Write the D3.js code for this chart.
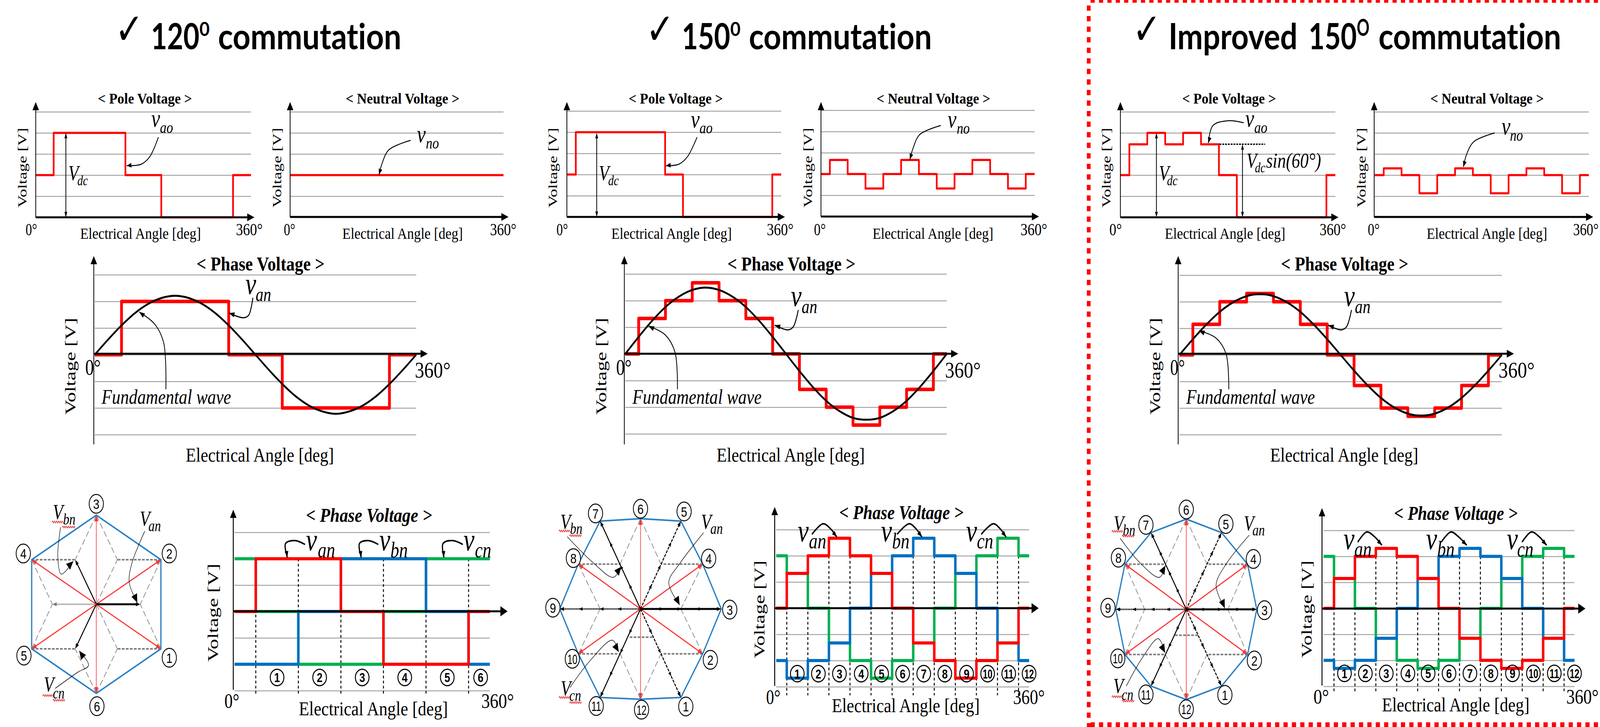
<!DOCTYPE html>
<html>
<head>
<meta charset="utf-8">
<script src="https://cdn.jsdelivr.net/npm/d3@7"></script>
<style>
  html, body { margin: 0; background: #fff; }
  svg { display: block; width: 100vw; height: 100vh; }
  text { font-variant-ligatures: none; }
</style>
</head>
<body>
<svg id="chart" viewBox="0 0 5151 1860" preserveAspectRatio="none"></svg>
<script>
// ---- data ----
const angles6 = [0, 30, 150, 210, 330, 360];
const angles12 = [0, 15, 45, 75, 105, 135, 165, 195, 225, 255, 285, 315, 345, 360];
const anglesBus = [0, 30, 90, 150, 210, 270, 330, 360];
const anglesFund = [0, 15, 30, 45, 60, 75, 90, 105, 120, 135, 150, 165, 180, 195, 210, 225, 240, 255, 270, 285, 300, 315, 330, 345, 360];

const pole120 = [0, 1, 0, -1, 0, 0];
const poleImp = [0, 0.73, 1, 0.73, 1, 0.73, 0, -1, -1, -1, -1, -1, 0, 0];
const polePlain12 = [0, 1, 1, 1, 1, 1, 0, -1, -1, -1, -1, -1, 0, 0];
const neutral120 = [0, 0, 0, 0, 0, 0];
const neutral150 = [0, 0.33, 0, -0.34, 0, 0.33, 0, -0.34, 0, 0.33, 0, -0.34, 0, 0];
const neutralImp = [0, 0.16, 0, -0.43, 0, 0.16, 0, -0.43, 0, 0.16, 0, -0.43, 0, 0];

const phase120 = [0, 2, 0, -2, 0, 0];
const phase150 = [0, 1.33, 2, 2.67, 2, 1.33, 0, -1.33, -2, -2.67, -2, -1.33, 0, 0];
const phaseImp = [0, 1.15, 2, 2.31, 2, 1.15, 0, -1.15, -2, -2.31, -2, -1.15, 0, 0];

const fund120 = [0, 0.57, 1.1, 1.56, 1.91, 2.13, 2.21, 2.13, 1.91, 1.56, 1.1, 0.57, 0, -0.57, -1.1, -1.56, -1.91, -2.13, -2.22, -2.13, -1.91, -1.56, -1.1, -0.57, 0];
const fund150 = [0, 0.64, 1.24, 1.76, 2.15, 2.4, 2.49, 2.4, 2.15, 1.76, 1.24, 0.64, 0, -0.64, -1.24, -1.76, -2.15, -2.4, -2.47, -2.4, -2.15, -1.76, -1.24, -0.64, 0];
const fundImp = [0, 0.59, 1.14, 1.62, 1.98, 2.21, 2.29, 2.21, 1.98, 1.62, 1.14, 0.59, 0, -0.59, -1.14, -1.62, -1.98, -2.21, -2.29, -2.21, -1.98, -1.62, -1.14, -0.59, 0];

const bus120a = [0, 2, 2, 0, -2, -2, 0, 0];
const bus120b = [-2, -2, 0, 2, 2, 0, -2, -2];
const bus120c = [2, 0, -2, -2, 0, 2, 2, 2];
const bus150a = [0, 1.33, 2, 2.67, 2, 1.33, 0, -1.33, -2, -2.67, -2, -1.33, 0, 0];
const bus150b = [-2, -2.67, -2, -1.33, 0, 1.33, 2, 2.67, 2, 1.33, 0, -1.33, -2, -2];
const bus150c = [2, 1.33, 0, -1.33, -2, -2.67, -2, -1.33, 0, 1.33, 2, 2.67, 2, 2];
const busImpA = [0, 1.15, 2, 2.31, 2, 1.15, 0, -1.15, -2, -2.31, -2, -1.15, 0, 0];
const busImpB = [-2, -2.31, -2, -1.15, 0, 1.15, 2, 2.31, 2, 1.15, 0, -1.15, -2, -2];
const busImpC = [2, 1.15, 0, -1.15, -2, -2.31, -2, -1.15, 0, 1.15, 2, 2.31, 2, 2];

const sectors6 = [60, 120, 180, 240, 300, 347];
const sectors12 = [30, 60, 90, 121, 150, 180, 210, 240, 271, 301, 331, 360];

const gridPole = [-1, -0.5, 0, 0.5, 1, 1.5];
const gridPhase = [-3, -2, -1, 0, 1, 2, 3];
const tickAngles = [0, 360];

const hexX = [1, 1, 0, -1, -1, 0];
const hexY = [-0.5, 0.5, 1, 0.5, -0.5, -1];
const hexLabelX = [1.13, 1.13, 0, -1.13, -1.12, 0.01];
const hexLabelY = [-0.6, 0.57, 1.127, 0.57, -0.576, -1.144];

const dodX150 = [0.5, 0.77, 1, 0.77, 0.5, 0, -0.5, -0.77, -1, -0.77, -0.5, 0];
const dodY150 = [-0.98, -0.497, 0, 0.497, 0.973, 1, 0.973, 0.497, 0, -0.497, -0.98, -1];
const dodLabelX150 = [0.561, 0.865, 1.105, 0.844, 0.54, 0, -0.557, -0.831, -1.085, -0.844, -0.548, 0.013];
const dodLabelY150 = [-1.08, -0.563, -0.007, 0.558, 1.08, 1.11, 1.058, 0.563, 0.014, -0.552, -1.075, -1.115];

const dodXImp = [0.5, 0.87, 1, 0.87, 0.5, 0, -0.5, -0.87, -1, -0.87, -0.5, 0];
const dodYImp = [-0.85, -0.5, 0, 0.5, 0.85, 1, 0.85, 0.5, 0, -0.5, -0.85, -1];
const dodLabelXImp = [0.548, 0.966, 1.11, 0.952, 0.562, 0, -0.572, -0.962, -1.11, -0.971, -0.572, 0];
const dodLabelYImp = [-0.947, -0.566, -0.009, 0.558, 0.945, 1.106, 0.935, 0.572, 0.018, -0.543, -0.942, -1.106];

// ---- styles ----
const SERIF = "'Liberation Serif', serif";
const SANS = "'Liberation Sans', sans-serif";
const RED = "#ff0000", BLUE = "#0070c0", GREEN = "#00b050", GRID = "#a6a6a6";

const svg = d3.select("#chart");

function txt(g, x, y, s, size, len, o = {}) {
	let t = g.append("text").attr("x", x).attr("y", y).text(s)
		.attr("font-size", size)
		.attr("font-family", o.family || SERIF)
		.attr("font-style", o.italic ? "italic" : null)
		.attr("font-weight", o.bold ? "bold" : null)
		.attr("text-anchor", o.anchor || null)
		.attr("fill", "#000");
	if (len) t.attr("textLength", len).attr("lengthAdjust", "spacingAndGlyphs");
	return t;
}

function rotatedLabel(g, base, y0, y1, size) {
	g.append("text")
		.attr("transform", "translate(" + base + "," + y1 + ") rotate(-90)")
		.text("Voltage  [V]")
		.attr("font-size", size)
		.attr("font-family", SERIF)
		.attr("textLength", y1 - y0)
		.attr("lengthAdjust", "spacingAndGlyphs");
}

function head(g, x, y, angle, len, wid, color = "#000") {
	g.append("path")
		.attr("d", "M0,0L" + (-len) + "," + (-wid / 2) + "L" + (-len) + "," + (wid / 2) + "Z")
		.attr("transform", "translate(" + x + "," + y + ") rotate(" + angle + ")")
		.attr("fill", color);
}

const curved = d3.line().curve(d3.curveCatmullRom.alpha(0.5));

// curved leader with a head at its last point
function callout(g, pts, w, len, wid, color = "#000") {
	g.append("path").attr("d", curved(pts)).attr("fill", "none").attr("stroke", color).attr("stroke-width", w);
	let a = pts[pts.length - 2], b = pts[pts.length - 1];
	head(g, b[0], b[1], Math.atan2(b[1] - a[1], b[0] - a[0]) * 180 / Math.PI, len, wid);
}

function squiggle(g, x0, x1, y) {
	let d = "M" + x0 + "," + y;
	for (let x = x0 + 3, up = true; x <= x1; x += 3, up = !up) d += "L" + x + "," + (y + (up ? -3 : 2));
	g.append("path").attr("d", d).attr("fill", "none").attr("stroke", "#e03030").attr("stroke-width", 1.8);
}

function subscripted(g, main, sub) {
	txt(g, main.x, main.y, main.s, main.size, null, { italic: true });
	txt(g, sub.x, sub.y, sub.s, sub.size, null, { italic: true });
}

function stepSeries(g, x, y, angles, levels, color, w) {
	let line = d3.line().x(d => x(d[0])).y(d => y(d[1])).curve(d3.curveStepAfter);
	g.append("path").datum(d3.zip(angles, levels))
		.attr("d", line).attr("fill", "none")
		.attr("stroke", color).attr("stroke-width", w)
		.attr("stroke-linejoin", "round");
}

// grid, axes, tick labels and titles shared by all the waveform charts
function frame(c) {
	let g = svg.append("g");
	let x = d3.scaleLinear().domain([0, 360]).range([c.x0, c.x1]);
	let y = d3.scaleLinear().domain([c.grid[0], c.grid[c.grid.length - 1]]).range([c.yb, c.yt]);

	let grid = g.append("g").attr("transform", "translate(" + c.x0 + ",0)")
		.call(d3.axisLeft(y).tickValues(c.grid).tickSize(-(c.x1 - c.x0)).tickFormat(""));
	grid.select(".domain").remove();
	grid.selectAll("line").attr("stroke", GRID).attr("stroke-width", 2.5);

	let ticks = g.append("g").attr("transform", "translate(0,0)")
		.call(d3.axisBottom(x).tickValues(tickAngles).tickSize(0).tickFormat(d => d + "°"));
	ticks.select(".domain").remove();
	ticks.selectAll("text")
		.attr("dy", null)
		.attr("text-anchor", "start")
		.attr("font-family", SERIF)
		.attr("font-size", c.tickSize)
		.attr("fill", "#000")
		.attr("x", d => d == 0 ? c.zero[0] - x(0) : c.end[0] - x(360))
		.attr("y", d => d == 0 ? c.zero[2] : c.end[2])
		.attr("textLength", d => d == 0 ? c.zero[1] - c.zero[0] : c.end[1] - c.end[0])
		.attr("lengthAdjust", "spacingAndGlyphs");

	txt(g, c.title[0], c.title[2], c.titleText, c.titleSize, c.title[1] - c.title[0], { bold: true, italic: c.titleItalic });
	txt(g, c.xlabel[0], c.xlabel[2], "Electrical Angle [deg]", c.labelSize, c.xlabel[1] - c.xlabel[0]);
	rotatedLabel(g, c.ylabel[0], c.ylabel[1], c.ylabel[2], c.ylabelSize);
	return { g, x, y };
}

function blackAxes(f, c) {
	f.g.append("line").attr("x1", c.axisX).attr("x2", c.axisX).attr("y1", c.axisBottom || c.yb).attr("y2", c.tipY + 15)
		.attr("stroke", "#000").attr("stroke-width", c.axisW || 2.5);
	head(f.g, c.axisX, c.tipY, -90, 21, 21);
	f.g.append("line").attr("x1", c.axisX).attr("x2", c.tipX - 15).attr("y1", c.axisY).attr("y2", c.axisY)
		.attr("stroke", "#000").attr("stroke-width", 5);
	head(f.g, c.tipX, c.axisY, 0, 23, c.headWid || 20);
}

function poleChart(c, angles, levels) {
	c = Object.assign({ grid: gridPole, tickSize: 45, labelSize: 40, titleSize: 39, ylabelSize: 40 }, c);
	let f = frame(c);
	stepSeries(f.g, f.x, f.y, angles, levels, RED, 5.5);
	blackAxes(f, c);
	return f;
}

function phaseChart(c, levels, fund) {
	c = Object.assign({ grid: gridPhase, tickSize: 58, labelSize: 50, titleSize: 50, ylabelSize: 47, titleText: "< Phase Voltage >" }, c);
	let f = frame(c);
	stepSeries(f.g, f.x, f.y, c.angles, levels, RED, 9);
	blackAxes(f, c);
	let line = d3.line().x(d => f.x(d[0])).y(d => f.y(d[1])).curve(d3.curveCatmullRom);
	f.g.append("path").datum(d3.zip(anglesFund, fund)).attr("d", line)
		.attr("fill", "none").attr("stroke", "#000").attr("stroke-width", 5);
	txt(f.g, c.fundLabel[0], 1033, "Fundamental wave", 52, c.fundLabel[1] - c.fundLabel[0], { italic: true });
	return f;
}

function busChart(c, angles, a, b, cc, sectors, dashes) {
	c = Object.assign({ grid: gridPhase, tickSize: 52, labelSize: 50, titleSize: 50, ylabelSize: 47, titleText: "< Phase Voltage >", titleItalic: true, axisW: 3, headWid: 26 }, c);
	let f = frame(c);
	f.g.append("g").selectAll("line").data(dashes).join("line")
		.attr("x1", d => f.x(d)).attr("x2", d => f.x(d))
		.attr("y1", f.y(2)).attr("y2", c.dashEnd)
		.attr("stroke", "#000").attr("stroke-width", 3).attr("stroke-dasharray", "7 6");
	stepSeries(f.g, f.x, f.y, angles, cc, GREEN, 8);
	stepSeries(f.g, f.x, f.y, angles, b, BLUE, 8);
	stepSeries(f.g, f.x, f.y, angles, a, RED, 8);
	blackAxes(f, c);
	let cg = f.g.append("g").selectAll("g").data(sectors).join("g")
		.attr("transform", d => "translate(" + f.x(d) + "," + f.y(-2.5) + ")");
	cg.append("ellipse").attr("rx", 22).attr("ry", 21).attr("fill", "none").attr("stroke", "#000").attr("stroke-width", 3);
	cg.append("text").text((d, i) => i + 1)
		.attr("text-anchor", "middle").attr("y", 12)
		.attr("font-family", SANS).attr("font-weight", "bold").attr("font-size", 33)
		.attr("textLength", (d, i) => i + 1 > 9 ? 31 : null)
		.attr("lengthAdjust", "spacingAndGlyphs");
	return f;
}

function vector(g, x, y, px, py, o) {
	let x0 = x(0), y0 = y(0), x1 = x(px), y1 = y(py);
	let ang = Math.atan2(y1 - y0, x1 - x0) * 180 / Math.PI;
	let k = o.headLen ? 1 - o.headLen * 0.6 / Math.hypot(x1 - x0, y1 - y0) : 1;
	g.append("line").attr("x1", x0).attr("y1", y0)
		.attr("x2", x0 + (x1 - x0) * k).attr("y2", y0 + (y1 - y0) * k)
		.attr("stroke", o.color).attr("stroke-width", o.w)
		.attr("stroke-dasharray", o.dash || null);
	if (o.headLen) head(g, x1, y1, ang, o.headLen, o.headWid || o.headLen * 0.7, o.color);
	(o.marks || []).forEach(m => head(g, x0 + (x1 - x0) * m, y0 + (y1 - y0) * m, ang, 11, 9, o.color));
}

function segment(g, x, y, s, stroke, w, dash) {
	g.append("line").attr("x1", x(s[0])).attr("y1", y(s[1])).attr("x2", x(s[2])).attr("y2", y(s[3]))
		.attr("stroke", stroke).attr("stroke-width", w).attr("stroke-dasharray", dash);
}

// phasor diagram: blue polygon, red line-voltage arrows, grey construction lines, black phase arrows
function diagram(c, px, py, lx, ly, reds, blacks, thick, thin) {
	let g = svg.append("g");
	let x = d3.scaleLinear().domain([-1, 1]).range([c.cx - c.ux, c.cx + c.ux]);
	let y = d3.scaleLinear().domain([-1, 1]).range([c.cy + c.uy, c.cy - c.uy]);

	thin.forEach(s => segment(g, x, y, s, "#7f7f7f", 2, "16 8"));
	thick.forEach(s => segment(g, x, y, s, "#7f7f7f", 4, "9 4"));

	let poly = d3.line().x(d => x(d[0])).y(d => y(d[1])).curve(d3.curveLinearClosed);
	g.append("path").datum(d3.zip(px, py)).attr("d", poly)
		.attr("fill", "none").attr("stroke", "#2a80c4").attr("stroke-width", 4);

	reds.forEach(r => vector(g, x, y, r[0], r[1], { color: "#ff3333", w: r[2], headLen: 16, headWid: 12 }));
	blacks.forEach(b => vector(g, x, y, b[0], b[1], { color: b[4] || "#000", w: b[2], dash: b[3], headLen: 14, headWid: 10, marks: c.marks }));

	let lg = g.append("g").selectAll("g").data(d3.zip(lx, ly)).join("g")
		.attr("transform", d => "translate(" + x(d[0]) + "," + y(d[1]) + ")");
	lg.append("ellipse").attr("rx", 23).attr("ry", 24).attr("fill", "#fff").attr("stroke", "#000").attr("stroke-width", 2.5);
	lg.append("text").text((d, i) => i + 1)
		.attr("text-anchor", "middle").attr("y", 13)
		.attr("font-family", SANS).attr("font-size", 36)
		.attr("textLength", (d, i) => i + 1 > 9 ? 32 : null)
		.attr("lengthAdjust", "spacingAndGlyphs");
	return g;
}

function heading(checkX, parts) {
	let g = svg.append("g");
	txt(g, checkX, 113, "✓", 112, 92, { family: "'DejaVu Sans'", bold: true });
	parts.forEach(p => txt(g, p[0], p[2], p[3], p[4], p[1] - p[0], { family: "Lato, sans-serif", bold: true }));
}

// ---- headings ----
heading(370, [[486, 642, 126, "120", 92], [642, 675, 92, "0", 50], [702, 1292, 126, "commutation", 92]]);
heading(2079, [[2195, 2351, 126, "150", 92], [2351, 2384, 92, "0", 50], [2411, 3000, 126, "commutation", 92]]);
heading(3646, [[3762, 4177, 126, "Improved", 92], [4213, 4368, 126, "150", 92], [4368, 4409, 92, "O", 62], [4438, 5026, 126, "commutation", 92]]);

// ---- top row ----
let p;
p = poleChart({ x0: 115, x1: 808, yb: 556, yt: 286, axisX: 115, axisY: 556, tipX: 819, tipY: 261,
	titleText: "< Pole Voltage >", title: [315, 618, 265], xlabel: [258, 647, 611], ylabel: [86, 327, 531],
	zero: [82, 119, 602], end: [759, 845, 602] }, angles6, pole120);
callout(p.g, [[212, 352], [212, 555]], 2.5, 0, 0);
head(p.g, 212, 340, -90, 14, 9); head(p.g, 212, 556, 90, 14, 9);
subscripted(p.g, { x: 220, y: 461, s: "V", size: 54 }, { x: 249, y: 474, s: "dc", size: 36 });
subscripted(p.g, { x: 487, y: 324, s: "v", size: 64 }, { x: 515, y: 340, s: "ao", size: 42 });
callout(p.g, [[510, 351], [483, 400], [455, 420], [408, 424]], 2.5, 15, 12);

p = poleChart({ x0: 934, x1: 1621, yb: 556, yt: 286, axisX: 934, axisY: 555, tipX: 1637, tipY: 261,
	titleText: "< Neutral Voltage >", title: [1113, 1479, 265], xlabel: [1102, 1490, 611], ylabel: [906, 327, 531],
	zero: [913, 950, 602], end: [1577, 1662, 602] }, angles6, neutral120);
subscripted(p.g, { x: 1342, y: 364, s: "v", size: 64 }, { x: 1371, y: 380, s: "no", size: 42 });
callout(p.g, [[1322, 359], [1251, 384], [1231, 416], [1220, 447]], 2.5, 15, 12);

p = poleChart({ x0: 1825, x1: 2515, yb: 555, yt: 284, axisX: 1825, axisY: 555, tipX: 2527, tipY: 261,
	titleText: "< Pole Voltage >", title: [2024, 2327, 265], xlabel: [1968, 2356, 611], ylabel: [1793, 327, 531],
	zero: [1791, 1828, 602], end: [2468, 2554, 602] }, angles12, polePlain12);
callout(p.g, [[1921, 350], [1921, 545]], 2.5, 0, 0);
head(p.g, 1921, 340, -90, 14, 9); head(p.g, 1921, 555, 90, 14, 9);
subscripted(p.g, { x: 1928, y: 461, s: "V", size: 54 }, { x: 1958, y: 474, s: "dc", size: 36 });
subscripted(p.g, { x: 2224, y: 326, s: "v", size: 64 }, { x: 2252, y: 341, s: "ao", size: 42 });
callout(p.g, [[2244, 351], [2214, 400], [2186, 420], [2144, 424]], 2.5, 15, 12);

p = poleChart({ x0: 2643, x1: 3331, yb: 554, yt: 282, axisX: 2643, axisY: 554, tipX: 3345, tipY: 261,
	titleText: "< Neutral Voltage >", title: [2822, 3188, 265], xlabel: [2809, 3198, 611], ylabel: [2615, 327, 531],
	zero: [2620, 2658, 602], end: [3285, 3371, 602] }, angles12, neutral150);
subscripted(p.g, { x: 3051, y: 326, s: "v", size: 64 }, { x: 3080, y: 342, s: "no", size: 42 });
callout(p.g, [[3029, 321], [2960, 345], [2940, 378], [2929, 408]], 2.5, 15, 12);

p = poleChart({ x0: 3607, x1: 4299, yb: 556, yt: 286, axisX: 3607, axisY: 556, tipX: 4309, tipY: 261,
	titleText: "< Pole Voltage >", title: [3806, 4108, 265], xlabel: [3750, 4138, 611], ylabel: [3575, 327, 531],
	zero: [3571, 3611, 602], end: [4248, 4333, 602] }, angles12, poleImp);
callout(p.g, [[3723, 352], [3723, 545]], 2.5, 0, 0);
head(p.g, 3723, 340, -90, 14, 9); head(p.g, 3723, 556, 90, 14, 9);
subscripted(p.g, { x: 3731, y: 461, s: "V", size: 54 }, { x: 3757, y: 474, s: "dc", size: 36 });
subscripted(p.g, { x: 4009, y: 324, s: "v", size: 64 }, { x: 4038, y: 340, s: "ao", size: 42 });
callout(p.g, [[4004, 314], [3953, 309], [3904, 322], [3890, 366]], 2.5, 15, 12);
p.g.append("line").attr("x1", 3926).attr("x2", 4073).attr("y1", 369).attr("y2", 369)
	.attr("stroke", "#000").attr("stroke-width", 3.5).attr("stroke-dasharray", "6 3");
callout(p.g, [[4000, 380], [4000, 545]], 2.5, 0, 0);
head(p.g, 4000, 369, -90, 14, 9); head(p.g, 4000, 556, 90, 14, 9);
subscripted(p.g, { x: 4013, y: 429, s: "V", size: 54 }, { x: 4040, y: 441, s: "dc", size: 36 });
txt(p.g, 4076, 429, "sin(60°)", 54, 177, { italic: true });

p = poleChart({ x0: 4426, x1: 5115, yb: 556, yt: 286, axisX: 4424, axisY: 555, tipX: 5129, tipY: 261,
	titleText: "< Neutral Voltage >", title: [4605, 4970, 265], xlabel: [4593, 4981, 611], ylabel: [4396, 327, 531],
	zero: [4403, 4441, 602], end: [5064, 5146, 602] }, angles12, neutralImp);
subscripted(p.g, { x: 4834, y: 344, s: "v", size: 64 }, { x: 4861, y: 360, s: "no", size: 42 });
callout(p.g, [[4812, 340], [4744, 363], [4722, 394], [4711, 427]], 2.5, 15, 12);

// ---- middle row ----
p = phaseChart({ angles: angles6, x0: 305, x1: 1340, yb: 1112, yt: 703, axisX: 302, axisBottom: 1137, axisY: 905, tipX: 1377, tipY: 655,
	title: [633, 1045, 692], xlabel: [598, 1075, 1181], ylabel: [243, 813, 1061],
	zero: [274, 324, 959], end: [1335, 1450, 966], fundLabel: [327, 744] }, phase120, fund120);
subscripted(p.g, { x: 790, y: 752, s: "v", size: 78 }, { x: 823, y: 770, s: "an", size: 50 });
callout(p.g, [[814, 762], [801, 806], [784, 813], [737, 801]], 3, 18, 13);
callout(p.g, [[534, 996], [527, 877], [499, 830], [448, 798]], 2.5, 18, 13);

p = phaseChart({ angles: angles12, x0: 2013, x1: 3048, yb: 1110, yt: 701, axisX: 2010, axisBottom: 1137, axisY: 905, tipX: 3085, tipY: 655,
	title: [2342, 2754, 692], xlabel: [2307, 2784, 1181], ylabel: [1952, 813, 1061],
	zero: [1983, 2033, 959], end: [3042, 3157, 966], fundLabel: [2036, 2452] }, phase150, fund150);
subscripted(p.g, { x: 2546, y: 783, s: "v", size: 78 }, { x: 2581, y: 801, s: "an", size: 50 });
callout(p.g, [[2570, 793], [2554, 836], [2537, 844], [2494, 832]], 3, 18, 13);
callout(p.g, [[2181, 996], [2173, 901], [2142, 857], [2088, 834]], 2.5, 18, 13);

p = phaseChart({ angles: angles12, x0: 3797, x1: 4835, yb: 1112, yt: 704, axisX: 3793, axisBottom: 1137, axisY: 905, tipX: 4874, tipY: 655,
	title: [4124, 4534, 692], xlabel: [4089, 4566, 1181], ylabel: [3735, 813, 1061],
	zero: [3767, 3814, 959], end: [4824, 4940, 966], fundLabel: [3819, 4233] }, phaseImp, fundImp);
subscripted(p.g, { x: 4327, y: 783, s: "v", size: 78 }, { x: 4362, y: 801, s: "an", size: 50 });
callout(p.g, [[4351, 793], [4335, 836], [4318, 844], [4276, 832]], 3, 18, 13);
callout(p.g, [[3956, 996], [3947, 905], [3915, 865], [3860, 846]], 2.5, 18, 13);

// ---- bottom row, phase voltages ----
p = busChart({ x0: 755, x1: 1577, yb: 1767, yt: 1362, axisX: 751, axisBottom: 1765, axisY: 1564, tipX: 1634, tipY: 1304,
	title: [985, 1391, 1335], xlabel: [962, 1442, 1830], ylabel: [702, 1442, 1693],
	zero: [722, 770, 1811], end: [1549, 1654, 1811], dashEnd: 1779 }, anglesBus, bus120a, bus120b, bus120c, sectors6, [30, 90, 150, 210, 270, 330]);
[["an", 985, 1023, [982, 949, 919, 925]], ["bn", 1221, 1257, [1218, 1185, 1157, 1163]], ["cn", 1492, 1529, [1490, 1457, 1426, 1429]]].forEach(v => {
	subscripted(p.g, { x: v[1], y: 1408, s: "v", size: 80 }, { x: v[2], y: 1426, s: v[0], size: 56 });
	callout(p.g, [[v[3][0], 1393], [v[3][1], 1383], [v[3][2], 1391], [v[3][3], 1426]], 4, 16, 12);
});

p = busChart({ x0: 2499, x1: 3313, yb: 1757, yt: 1355, axisX: 2494, axisBottom: 1755, axisY: 1556, tipX: 3344, tipY: 1297,
	title: [2702, 3102, 1328], xlabel: [2678, 3154, 1822], ylabel: [2461, 1434, 1684],
	zero: [2466, 2512, 1801], end: [3261, 3363, 1801], dashEnd: 1779 }, angles12, bus150a, bus150b, bus150c, sectors12, angles12.slice(1, 13));
[["an", 2568, 2604, [2614, 2650, 2674, 2694]], ["bn", 2836, 2872, [2888, 2927, 2949, 2968]], ["cn", 3110, 3145, [3159, 3198, 3220, 3239]]].forEach(v => {
	subscripted(p.g, { x: v[1], y: 1385, s: "v", size: 80 }, { x: v[2], y: 1403, s: v[0], size: 56 });
	callout(p.g, [[v[3][0], 1367], [v[3][1], 1340], [v[3][2], 1353], [v[3][3], 1374]], 4, 16, 12);
});

p = busChart({ x0: 4261, x1: 5069, yb: 1756, yt: 1357, axisX: 4256, axisBottom: 1754, axisY: 1557, tipX: 5104, tipY: 1300,
	title: [4488, 4886, 1330], xlabel: [4449, 4924, 1820], ylabel: [4223, 1434, 1683],
	zero: [4228, 4278, 1800], end: [5042, 5146, 1800], dashEnd: 1769 }, angles12, busImpA, busImpB, busImpC, sectors12, angles12.slice(1, 13));
[["an", 4325, 4360, [4371, 4400, 4425, 4449]], ["bn", 4591, 4627, [4640, 4671, 4695, 4722]], ["cn", 4851, 4884, [4900, 4930, 4955, 4979]]].forEach(v => {
	subscripted(p.g, { x: v[1], y: 1405, s: "v", size: 80 }, { x: v[2], y: 1424, s: v[0], size: 56 });
	callout(p.g, [[v[3][0], 1387], [v[3][1], 1361], [v[3][2], 1373], [v[3][3], 1395]], 4, 16, 12);
});

// ---- bottom row, phasor diagrams ----
let d;
function leaderLabels(g, labels) {
	labels.forEach(l => subscripted(g, { x: l[0], y: l[1], s: "V", size: 54 }, { x: l[2], y: l[3], s: l[4], size: 40 }));
}

d = diagram({ cx: 310, cy: 1546, ux: 208, uy: 228, marks: [] }, hexX, hexY, hexLabelX, hexLabelY,
	[[1, 0.5, 3], [1, -0.5, 3], [-1, 0.5, 3], [-1, -0.5, 3], [0, 1, 2], [0, -1, 2]],
	[[0.68, 0, 5], [-0.326, 0.5, 3], [-0.326, -0.5, 3], [-0.68, 0, 4, "2 2", "#777"]],
	[[1, 0.5, 0.326, 0.5], [-1, 0.5, -0.326, 0.5], [1, -0.5, 0.326, -0.5], [-1, -0.5, -0.326, -0.5]],
	[[0, 1, 0.326, 0.5], [0, 1, -0.326, 0.5], [0, -1, 0.326, -0.5], [0, -1, -0.326, -0.5],
	 [1, 0.5, 0.68, 0], [1, -0.5, 0.68, 0], [-1, 0.5, -0.68, 0], [-1, -0.5, -0.68, 0], [0, 0, 0.326, 0.5], [0, 0, 0.326, -0.5]]);
leaderLabels(d, [[450, 1345, 478, 1359, "an"], [170, 1328, 203, 1342, "bn"], [141, 1769, 170, 1787, "cn"]]);
callout(d, [[466, 1359], [425, 1440], [416, 1490], [442, 1542]], 1.5, 22, 20);
callout(d, [[195, 1349], [186, 1424], [197, 1469], [236, 1436]], 1.5, 22, 20);
callout(d, [[178, 1761], [250, 1720], [285, 1702], [255, 1665]], 1.5, 22, 20);
[[167, 205, 1336], [200, 243, 1349], [137, 170, 1780], [170, 211, 1792]].forEach(s => squiggle(d, s[0], s[1], s[2]));

d = diagram({ cx: 2062, cy: 1558, ux: 260, uy: 231, marks: [0.28, 0.5, 0.76] }, dodX150, dodY150, dodLabelX150, dodLabelY150,
	[[0.77, 0.497, 3], [0.77, -0.497, 3], [-0.77, 0.497, 3], [-0.77, -0.497, 3], [0, 1, 2], [0, -1, 2]],
	[[1, 0, 5], [-1, 0, 4, "3 2"], [-0.5, 0.973, 3], [-0.5, -0.98, 3], [0.5, 0.973, 3, "8 3"], [0.5, -0.98, 3, "8 3"]],
	[[0.77, 0.497, 0.253, 0.497], [-0.77, 0.497, -0.253, 0.497], [0.77, -0.497, 0.253, -0.497], [-0.77, -0.497, -0.253, -0.497], [-0.135, -0.313, 0.16, -0.313]],
	[[0, 1, 0.253, 0.497], [0, 1, -0.253, 0.497], [0, -1, 0.253, -0.497], [0, -1, -0.253, -0.497],
	 [0.77, 0.497, 0.5, 0], [0.77, -0.497, 0.5, 0], [-0.77, 0.497, -0.5, 0], [-0.77, -0.497, -0.5, 0]]);
leaderLabels(d, [[2257, 1353, 2287, 1366, "an"], [1804, 1353, 1835, 1366, "bn"], [1805, 1779, 1833, 1793, "cn"]]);
callout(d, [[2265, 1363], [2190, 1440], [2153, 1490], [2188, 1548]], 1.5, 22, 20);
callout(d, [[1826, 1373], [1910, 1440], [1975, 1477], [2000, 1450]], 1.5, 22, 20);
callout(d, [[1835, 1759], [1900, 1690], [1972, 1638], [1992, 1668]], 1.5, 22, 20);
[[1799, 1835, 1359], [1833, 1874, 1371], [1799, 1835, 1785], [1833, 1874, 1798]].forEach(s => squiggle(d, s[0], s[1], s[2]));

d = diagram({ cx: 3819, cy: 1559, ux: 227, uy: 231, marks: [0.28, 0.5, 0.76] }, dodXImp, dodYImp, dodLabelXImp, dodLabelYImp,
	[[0.87, 0.5, 3], [0.87, -0.5, 3], [-0.87, 0.5, 3], [-0.87, -0.5, 3], [0, 1, 2], [0, -1, 2]],
	[[1, 0, 5], [-1, 0, 4, "3 2"], [-0.5, 0.85, 3], [-0.5, -0.85, 3], [0.5, 0.85, 3, "8 3"], [0.5, -0.85, 3, "8 3"]],
	[[0.87, 0.5, 0.294, 0.5], [-0.87, 0.5, -0.294, 0.5], [0.87, -0.5, 0.294, -0.5], [-0.87, -0.5, -0.294, -0.5], [-0.16, -0.287, 0.17, -0.287]],
	[[0, 1, 0.294, 0.5], [0, 1, -0.294, 0.5], [0, -1, 0.294, -0.5], [0, -1, -0.294, -0.5],
	 [0.87, 0.5, 0.59, 0], [0.87, -0.5, 0.59, 0], [-0.87, 0.5, -0.59, 0], [-0.87, -0.5, -0.59, 0]]);
leaderLabels(d, [[4004, 1357, 4032, 1370, "an"], [3585, 1357, 3615, 1370, "bn"], [3584, 1773, 3611, 1791, "cn"]]);
callout(d, [[4022, 1369], [3950, 1440], [3915, 1497], [3943, 1556]], 1.5, 22, 20);
callout(d, [[3606, 1377], [3670, 1440], [3733, 1477], [3752, 1447]], 1.5, 22, 20);
callout(d, [[3626, 1755], [3680, 1680], [3729, 1634], [3751, 1670]], 1.5, 22, 20);
[[3579, 3615, 1360], [3612, 3653, 1372], [3579, 3615, 1783], [3612, 3653, 1794]].forEach(s => squiggle(d, s[0], s[1], s[2]));

// ---- dashed red frame round the third column ----
const frameLine = (x1, y1, x2, y2, w) => svg.append("line")
	.attr("x1", x1).attr("y1", y1).attr("x2", x2).attr("y2", y2)
	.attr("stroke", RED).attr("stroke-width", w).attr("stroke-dasharray", "13.5 13.5");
frameLine(3511, 3, 5151, 3, 8);
frameLine(3505, 14, 3505, 1860, 12);
frameLine(3511, 1854, 5151, 1854, 12);
</script>
</body>
</html>
